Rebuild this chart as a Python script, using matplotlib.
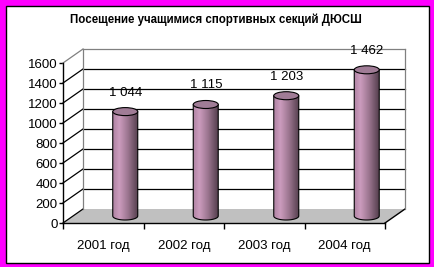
import numpy as np
import matplotlib
matplotlib.use('Agg')
import matplotlib.pyplot as plt
from matplotlib.patches import Rectangle, Polygon, Ellipse
from matplotlib.colors import LinearSegmentedColormap

plt.rcParams['font.family'] = ['Liberation Sans', 'DejaVu Sans']

title = 'Посещение учащимися спортивных секций ДЮСШ'
years = ['2001 год', '2002 год', '2003 год', '2004 год']
visits = [1044, 1115, 1203, 1462]
yticks = [0, 200, 400, 600, 800, 1000, 1200, 1400, 1600]

W, H = 434, 267
fig = plt.figure(figsize=(W / 100, H / 100), dpi=100)
fig.patch.set_facecolor('#ff00ff')
# white plate with black border inside the magenta frame
fig.patches.append(Rectangle((5.5 / W, 4.5 / H), 423 / W, 257 / H, transform=fig.transFigure,
                             fc='white', ec='black', lw=1.0, zorder=-5))

fig.text(216 / W, 1 - 20 / H, title, ha='center', va='center', fontsize=8.3, fontweight='bold')

# axes = front plane of the 3d box
x0, x1, yb, yt = 63, 385, 223, 63
ax = fig.add_axes([x0 / W, 1 - yb / H, (x1 - x0) / W, (yb - yt) / H])
ax.set_facecolor('none')
n = len(years)
ax.set_xlim(-0.5, n - 0.5)
ax.set_ylim(yticks[0], yticks[-1])

# pixel -> data helpers
px_x = (n) / (x1 - x0)
px_y = (yticks[-1] - yticks[0]) / (yb - yt)
DX, DY = 20 * px_x, 14 * px_y          # depth of the box
BX, BY = 22 * px_x, 7 * px_y           # bar position inside the box
BW = 25 * px_x                          # bar width
EH = 8 * px_y                           # ellipse height

lo, hi = -0.5, n - 0.5
# floor
ax.add_patch(Polygon([(lo, 0), (hi, 0), (hi + DX, DY), (lo + DX, DY)], closed=True,
                     fc='#c0c0c0', ec='none', zorder=1, clip_on=False))
ax.plot([hi, hi + DX], [0, DY], color='black', lw=1, clip_on=False, zorder=2)

# walls and gridlines
for t in yticks:
    c = '#808080' if t == yticks[-1] else 'black'
    ax.plot([lo, lo + DX], [t, t + DY], color=c, lw=0.9, clip_on=False, zorder=2)
    if t != yticks[0]:
        ax.plot([lo + DX, hi + DX], [t + DY, t + DY], color=c, lw=0.9, clip_on=False, zorder=2)
for xe in (lo + DX, hi + DX):
    ax.plot([xe, xe], [DY, yticks[-1] + DY], color='#808080', lw=0.9, clip_on=False, zorder=2)

# cylinders
cmap = LinearSegmentedColormap.from_list('cyl', [(0, '#b084a4'), (0.25, '#cc9cbe'),
                                                 (0.6, '#9c7690'), (1.0, '#56404f')])
grad = np.linspace(0, 1, 64)[None, :]
th = np.linspace(np.pi, 2 * np.pi, 30)
for i, v in enumerate(visits):
    xc = i + BX
    base = BY
    top = BY + v
    l, r = xc - BW / 2, xc + BW / 2
    pts = [(l, top), (l, base)]
    pts += list(zip(xc + BW / 2 * np.cos(th), base + EH / 2 * np.sin(th)))
    pts += [(r, base), (r, top)]
    body = Polygon(pts, closed=True, fc='none', ec='black', lw=0.8, zorder=5)
    ax.add_patch(body)
    im = ax.imshow(grad, extent=[l, r, base - EH, top], aspect='auto', cmap=cmap,
                   interpolation='bilinear', zorder=4)
    im.set_clip_path(body)
    ax.add_patch(Ellipse((xc, top), BW, EH, fc='#a07c96', ec='black', lw=0.8, zorder=6))
    ax.text(xc, top + 190, f'{v:,}'.replace(',', ' '), ha='center', va='center',
            fontsize=9.5, zorder=7)

ax.set_xlim(-0.5, n - 0.5)
ax.set_ylim(yticks[0], yticks[-1])

for s in ('top', 'right'):
    ax.spines[s].set_visible(False)
for s in ('left', 'bottom'):
    ax.spines[s].set_color('black')
    ax.spines[s].set_linewidth(1)
    ax.spines[s].set_zorder(3)

ax.set_yticks(yticks)
ax.set_yticklabels([str(t) for t in yticks])
ax.tick_params(axis='y', direction='out', length=3, width=1, pad=1, labelsize=9.5)
ax.set_xticks(np.arange(n + 1) - 0.5)
ax.set_xticklabels([])
ax.set_xticks(np.arange(n), minor=True)
ax.set_xticklabels(years, minor=True)
ax.tick_params(axis='x', which='major', direction='out', length=4, width=1)
ax.tick_params(axis='x', which='minor', length=0, pad=12, labelsize=9.5)

fig.savefig('out.png', dpi=100, facecolor=fig.get_facecolor())
